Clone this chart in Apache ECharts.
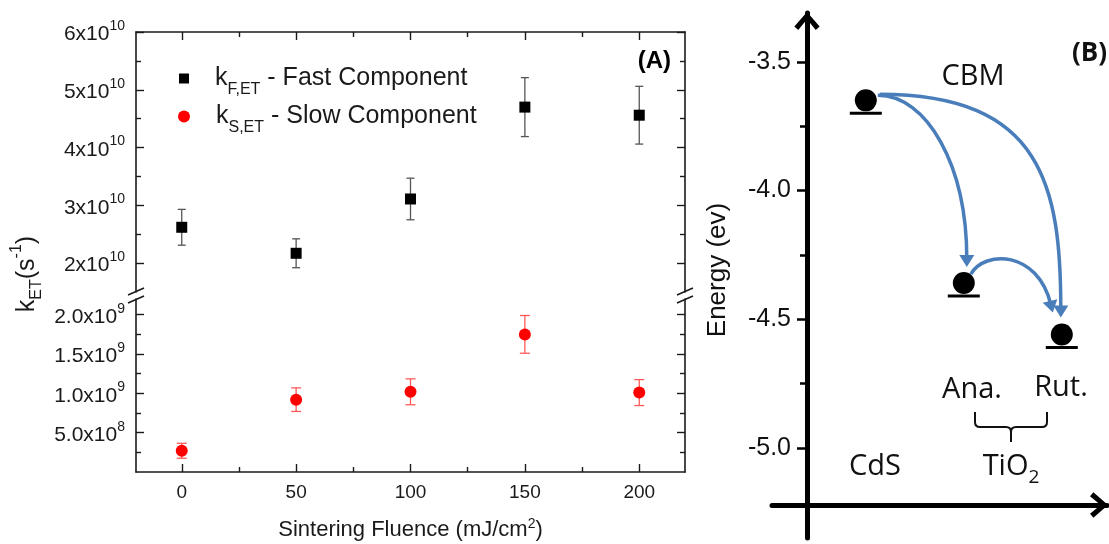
<!DOCTYPE html>
<html><head><meta charset="utf-8">
<script src="https://cdn.jsdelivr.net/npm/echarts@6/dist/echarts.min.js"></script>
<style>html,body{margin:0;padding:0;background:#fff}#c{width:1109px;height:544px}</style>
</head><body><div id="c"></div>
<script>
// ---------- Panel A data ----------
const fluence = [0, 50, 100, 150, 200];
const fastK = [2.62e10, 2.17e10, 3.11e10, 4.70e10, 4.56e10];
const fastErr = [0.31e10, 0.25e10, 0.36e10, 0.51e10, 0.50e10];
const slowK = [2.7e8, 9.2e8, 1.02e9, 1.75e9, 1.01e9];
const slowErr = [0.95e8, 1.5e8, 1.65e8, 2.4e8, 1.65e8];
const seriesNames = ['kF,ET - Fast Component', 'kS,ET - Slow Component'];
const fluenceTicks = [0, 50, 100, 150, 200];
const fluenceMinor = [25, 75, 125, 175];
const upperTicks = [2e10, 3e10, 4e10, 5e10, 6e10];
const upperMinor = [2.5e10, 3.5e10, 4.5e10, 5.5e10];
const lowerTicks = [5e8, 1e9, 1.5e9, 2e9];
const lowerMinor = [2.5e8, 7.5e8, 1.25e9, 1.75e9];

// ---------- Panel B data ----------
const materials = ['CdS', 'Ana.', 'Rut.'];
const materialX = [0.6, 1.6, 2.6];
const cbmLevels = [-3.70, -4.41, -4.61];
const transfers = [[0, 1], [0, 2], [1, 2]];
const energyTicks = [-5.0, -4.5, -4.0, -3.5];
const energyMinor = [-4.75, -4.25, -3.75];

const AF = 'Liberation Sans, Arial, sans-serif';
const BF = 'Open Sans, Lato, sans-serif';
const INK = '#1a1a1a';
const BLUE = '#4a7ebb';

function sciLabel(v, dec) {
  const e = Math.floor(Math.log10(v) + 1e-9);
  const m = v / Math.pow(10, e);
  return '{b|' + m.toFixed(dec) + 'x10}{s|' + e + '}';
}
const labelRich = {
  b: {fontSize: 21, fontFamily: AF, color: INK, lineHeight: 26, verticalAlign: 'bottom'},
  s: {fontSize: 14, fontFamily: AF, color: INK, lineHeight: 26, verticalAlign: 'top'}
};

function valAxis(extra) {
  return Object.assign({type: 'value', splitLine: {show: false}, axisLine: {show: false, onZero: false}, axisLabel: {show: false}, axisTick: {show: false}}, extra);
}
const aLine = {show: true, onZero: false, lineStyle: {color: INK, width: 1.6}};
function tick(vals, len, inside) {
  return {show: true, inside: inside !== false, length: len, customValues: vals, lineStyle: {color: INK, width: 1.4}};
}

const chevron = 'path://M0,15 L13,0 L26,15 L22,18.5 L13,7.5 L4,18.5 Z';

function errRender(color, capW) {
  return function (params, api) {
    const x = api.value(0), y = api.value(1), e = api.value(2);
    const t = api.coord([x, y + e]), b = api.coord([x, y - e]);
    const st = {stroke: color, lineWidth: 1.3};
    return {type: 'group', children: [
      {type: 'line', shape: {x1: t[0], y1: t[1], x2: b[0], y2: b[1]}, style: st},
      {type: 'line', shape: {x1: t[0] - capW / 2, y1: t[1], x2: t[0] + capW / 2, y2: t[1]}, style: st},
      {type: 'line', shape: {x1: b[0] - capW / 2, y1: b[1], x2: b[0] + capW / 2, y2: b[1]}, style: st}
    ]};
  };
}

// arrow styling: start/end pixel offsets from level point, and control factors
const arrowStyle = [
  {s: [12, -18], e: [3, -29], c1: [0.55, 0], c2: [0, -0.55]},
  {s: [14, -19], e: [-1, -30], c1: [0.9, 0], c2: [0, -0.55]},
  {s: [7, -22], e: [-9, -35], c1: [0.17, -0.63], c2: [-0.16, -1.42]}
];
function arrowRender(params, api) {
  const st = arrowStyle[api.value(4)];
  const a = api.coord([api.value(0), api.value(1)]);
  const b = api.coord([api.value(2), api.value(3)]);
  const p1 = [a[0] + st.s[0], a[1] + st.s[1]];
  const p2 = [b[0] + st.e[0], b[1] + st.e[1]];
  const dx = p2[0] - p1[0], dy = p2[1] - p1[1];
  const c1 = [p1[0] + st.c1[0] * dx, p1[1] + st.c1[1] * dy];
  const c2 = [p2[0] + st.c2[0] * dx, p2[1] + st.c2[1] * dy];
  let ux = p2[0] - c2[0], uy = p2[1] - c2[1];
  const n = Math.hypot(ux, uy); ux /= n; uy /= n;
  const L = 12, W = 7.5, back = 8;
  const q2 = [p2[0] - ux * back, p2[1] - uy * back];
  const qc2 = [c2[0] - ux * back, c2[1] - uy * back];
  const base = [p2[0] - ux * L, p2[1] - uy * L];
  return {type: 'group', children: [
    {type: 'bezierCurve', shape: {x1: p1[0], y1: p1[1], x2: q2[0], y2: q2[1], cpx1: c1[0], cpy1: c1[1], cpx2: qc2[0], cpy2: qc2[1]},
      style: {stroke: BLUE, lineWidth: 3.5, fill: null}},
    {type: 'polygon', shape: {points: [p2, [base[0] - uy * W, base[1] + ux * W], [base[0] + uy * W, base[1] - ux * W]]},
      style: {fill: BLUE}}
  ]};
}

const legendRich = {
  k: {fontSize: 25, fontFamily: AF, color: INK, lineHeight: 38, verticalAlign: 'middle', padding: [0, 0, 0, 21]},
  sub: {fontSize: 16, fontFamily: AF, color: INK, lineHeight: 38, verticalAlign: 'bottom'},
  t: {fontSize: 25, fontFamily: AF, color: INK, lineHeight: 38, verticalAlign: 'middle'}
};
function legendText(name) {
  const i = seriesNames.indexOf(name);
  const sub = i === 0 ? 'F,ET' : 'S,ET';
  const rest = i === 0 ? ' - Fast Component' : ' - Slow Component';
  return '{k|k}{sub|' + sub + '}{t|' + rest + '}';
}

const braceStyle = {stroke: '#111', lineWidth: 2, fill: null};
const option = {
  animation: false,
  backgroundColor: '#fff',
  grid: [
    {left: 136, right: 424, top: 32, height: 260},
    {left: 136, right: 424, top: 299, height: 173},
    {left: 807, right: 2, top: 13, height: 525},
    {left: 772, right: 2, top: 13, height: 492}
  ],
  legend: [
    {data: [{name: seriesNames[0], icon: 'rect'}], left: 179, top: 66, itemWidth: 10, itemHeight: 10, padding: 0,
      selectedMode: false, formatter: legendText, textStyle: {rich: legendRich}},
    {data: [{name: seriesNames[1], icon: 'circle'}], left: 178, top: 104, itemWidth: 12, itemHeight: 12, padding: 0,
      selectedMode: false, formatter: legendText, textStyle: {rich: legendRich}}
  ],
  xAxis: [
    valAxis({gridIndex: 0, position: 'top', min: -20, max: 220, axisLine: aLine, axisTick: tick(fluenceTicks, 8)}),
    valAxis({gridIndex: 0, position: 'top', min: -20, max: 220, axisTick: tick(fluenceMinor, 5)}),
    valAxis({gridIndex: 1, position: 'bottom', min: -20, max: 220, axisLine: aLine, axisTick: tick(fluenceTicks, 8),
      axisLabel: {show: true, customValues: fluenceTicks, fontSize: 19, fontFamily: AF, color: INK, margin: 11},
      name: 'Sintering Fluence (mJ/cm{s|2})', nameLocation: 'middle', nameGap: 45,
      nameTextStyle: {fontSize: 22, fontFamily: AF, color: INK, rich: {s: {fontSize: 14, fontFamily: AF, color: INK, verticalAlign: 'top', lineHeight: 26}}}}),
    valAxis({gridIndex: 1, position: 'bottom', min: -20, max: 220, axisTick: tick(fluenceMinor, 5)}),
    valAxis({gridIndex: 2, min: 0, max: 3.0612, show: false}),
    valAxis({gridIndex: 3, min: 0, max: 1, axisLine: {show: true, onZero: false, lineStyle: {color: '#000', width: 5},
      symbol: ['none', chevron], symbolSize: [26, 18], symbolOffset: [0, -8]}})
  ],
  yAxis: [
    valAxis({gridIndex: 0, position: 'left', min: 1.5e10, max: 6e10, axisLine: aLine, axisTick: tick(upperTicks, 8),
      axisLabel: {show: true, customValues: upperTicks, margin: 11, formatter: v => sciLabel(v, 0), rich: labelRich}}),
    valAxis({gridIndex: 0, position: 'left', min: 1.5e10, max: 6e10, axisTick: tick(upperMinor, 5)}),
    valAxis({gridIndex: 0, position: 'right', min: 1.5e10, max: 6e10, axisLine: aLine, axisTick: tick(upperTicks, 8)}),
    valAxis({gridIndex: 0, position: 'right', min: 1.5e10, max: 6e10, axisTick: tick(upperMinor, 5)}),
    valAxis({gridIndex: 1, position: 'left', min: 0, max: 2.2e9, axisLine: aLine, axisTick: tick(lowerTicks, 8),
      axisLabel: {show: true, customValues: lowerTicks, margin: 11, formatter: v => sciLabel(v, 1), rich: labelRich}}),
    valAxis({gridIndex: 1, position: 'left', min: 0, max: 2.2e9, axisTick: tick(lowerMinor, 5)}),
    valAxis({gridIndex: 1, position: 'right', min: 0, max: 2.2e9, axisLine: aLine, axisTick: tick(lowerTicks, 8)}),
    valAxis({gridIndex: 1, position: 'right', min: 0, max: 2.2e9, axisTick: tick(lowerMinor, 5)}),
    valAxis({gridIndex: 2, position: 'left', min: -5.35, max: -3.31,
      axisLine: {show: true, onZero: false, lineStyle: {color: '#000', width: 5}, symbol: ['none', chevron], symbolSize: [26, 18], symbolOffset: [0, -8]},
      axisTick: {show: true, inside: false, length: 10, customValues: energyTicks, lineStyle: {color: '#000', width: 2.5}},
      axisLabel: {show: true, customValues: energyTicks, margin: 16, fontSize: 25, fontFamily: AF, color: '#111', formatter: v => v.toFixed(1)}}),
    valAxis({gridIndex: 2, position: 'left', min: -5.35, max: -3.31,
      axisTick: {show: true, inside: false, length: 7, customValues: energyMinor, lineStyle: {color: '#000', width: 2.5}}}),
    valAxis({gridIndex: 3, min: 0, max: 1, show: false})
  ],
  series: [
    {type: 'custom', name: 'fastErr', xAxisIndex: 0, yAxisIndex: 0, renderItem: errRender('#555', 8), z: 2,
      data: fluence.map((x, i) => [x, fastK[i], fastErr[i]])},
    {type: 'scatter', name: seriesNames[0], xAxisIndex: 0, yAxisIndex: 0, symbol: 'rect', symbolSize: 11, z: 3,
      itemStyle: {color: '#000', opacity: 1}, data: fluence.map((x, i) => [x, fastK[i]])},
    {type: 'custom', name: 'slowErr', xAxisIndex: 2, yAxisIndex: 4, renderItem: errRender('#ff5a5a', 10), z: 2,
      data: fluence.map((x, i) => [x, slowK[i], slowErr[i]])},
    {type: 'scatter', name: seriesNames[1], xAxisIndex: 2, yAxisIndex: 4, symbol: 'circle', symbolSize: 12, z: 3,
      itemStyle: {color: '#ff0000', opacity: 1}, data: fluence.map((x, i) => [x, slowK[i]])},
    {type: 'scatter', name: 'levels', xAxisIndex: 4, yAxisIndex: 8, symbol: 'rect', symbolSize: [32, 3],
      itemStyle: {color: '#000', opacity: 1}, data: materialX.map((x, i) => [x, cbmLevels[i]])},
    {type: 'scatter', name: 'electrons', xAxisIndex: 4, yAxisIndex: 8, symbol: 'circle', symbolSize: 22, symbolOffset: [0, -13],
      itemStyle: {color: '#000', opacity: 1}, data: materialX.map((x, i) => [x, cbmLevels[i]])},
    {type: 'custom', name: 'transfer', xAxisIndex: 4, yAxisIndex: 8, renderItem: arrowRender, z: 5,
      data: transfers.map(([f, t], i) => [materialX[f], cbmLevels[f], materialX[t], cbmLevels[t], i])}
  ],
  graphic: [
    {type: 'text', x: 671, y: 61, style: {text: '(A)', fontSize: 24, fontWeight: 'bold', fontFamily: AF, fill: '#000', align: 'right', verticalAlign: 'middle'}},
    {type: 'text', x: 27, y: 274, rotation: Math.PI / 2, style: {
      text: '{k|k}{sub|ET}{k|(s}{sup|-1}{k|)}', align: 'center', verticalAlign: 'middle',
      rich: {
        k: {fontSize: 25, fontFamily: AF, fill: INK, lineHeight: 36, verticalAlign: 'middle'},
        sub: {fontSize: 16, fontFamily: AF, fill: INK, lineHeight: 36, verticalAlign: 'bottom'},
        sup: {fontSize: 16, fontFamily: AF, fill: INK, lineHeight: 36, verticalAlign: 'top'}
      }}},
    // axis break marks
    {type: 'line', shape: {x1: 128, y1: 295, x2: 144, y2: 288}, style: {stroke: INK, lineWidth: 1.6}},
    {type: 'line', shape: {x1: 128, y1: 303, x2: 144, y2: 296}, style: {stroke: INK, lineWidth: 1.6}},
    {type: 'line', shape: {x1: 677, y1: 295, x2: 693, y2: 288}, style: {stroke: INK, lineWidth: 1.6}},
    {type: 'line', shape: {x1: 677, y1: 303, x2: 693, y2: 296}, style: {stroke: INK, lineWidth: 1.6}},
    // Panel B texts
    {type: 'text', x: 718, y: 270, rotation: Math.PI / 2, style: {text: 'Energy (ev)', fontSize: 26, fontFamily: AF, fill: '#111', align: 'center', verticalAlign: 'middle'}},
    {type: 'text', x: 973, y: 77, style: {text: 'CBM', fontSize: 29, fontFamily: BF, fill: '#111', align: 'center', verticalAlign: 'middle'}},
    {type: 'text', x: 1107, y: 54, style: {text: '(B)', fontSize: 26, fontWeight: 'bold', fontFamily: BF, fill: '#111', align: 'right', verticalAlign: 'middle'}},
    {type: 'text', x: 972, y: 390, style: {text: materials[1], fontSize: 29, fontFamily: BF, fill: '#111', align: 'center', verticalAlign: 'middle'}},
    {type: 'text', x: 1061, y: 388, style: {text: materials[2], fontSize: 29, fontFamily: BF, fill: '#111', align: 'center', verticalAlign: 'middle'}},
    {type: 'text', x: 875, y: 467, style: {text: materials[0], fontSize: 29, fontFamily: BF, fill: '#111', align: 'center', verticalAlign: 'middle'}},
    {type: 'text', x: 1011, y: 467, style: {text: '{t|TiO}{s|2}', align: 'center', verticalAlign: 'middle',
      rich: {t: {fontSize: 29, fontFamily: BF, fill: '#111', lineHeight: 40, verticalAlign: 'middle'},
             s: {fontSize: 19, fontFamily: BF, fill: '#111', lineHeight: 40, verticalAlign: 'bottom'}}}},
    // brace under Ana./Rut.
    {type: 'group', children: [
      {type: 'line', shape: {x1: 975, y1: 412, x2: 975, y2: 422}, style: braceStyle},
      {type: 'bezierCurve', shape: {x1: 975, y1: 422, cpx1: 975, cpy1: 427, x2: 980, y2: 427}, style: braceStyle},
      {type: 'line', shape: {x1: 980, y1: 427, x2: 1006, y2: 427}, style: braceStyle},
      {type: 'bezierCurve', shape: {x1: 1006, y1: 427, cpx1: 1011, cpy1: 427, x2: 1011, y2: 432}, style: braceStyle},
      {type: 'line', shape: {x1: 1011, y1: 432, x2: 1011, y2: 442}, style: braceStyle},
      {type: 'bezierCurve', shape: {x1: 1011, y1: 432, cpx1: 1011, cpy1: 427, x2: 1016, y2: 427}, style: braceStyle},
      {type: 'line', shape: {x1: 1016, y1: 427, x2: 1042, y2: 427}, style: braceStyle},
      {type: 'bezierCurve', shape: {x1: 1042, y1: 427, cpx1: 1047, cpy1: 427, x2: 1047, y2: 422}, style: braceStyle},
      {type: 'line', shape: {x1: 1047, y1: 422, x2: 1047, y2: 412}, style: braceStyle}
    ]}
  ]
};
const chart = echarts.init(document.getElementById('c'), null, {renderer: 'canvas'});
chart.setOption(option);
</script>
</body></html>
